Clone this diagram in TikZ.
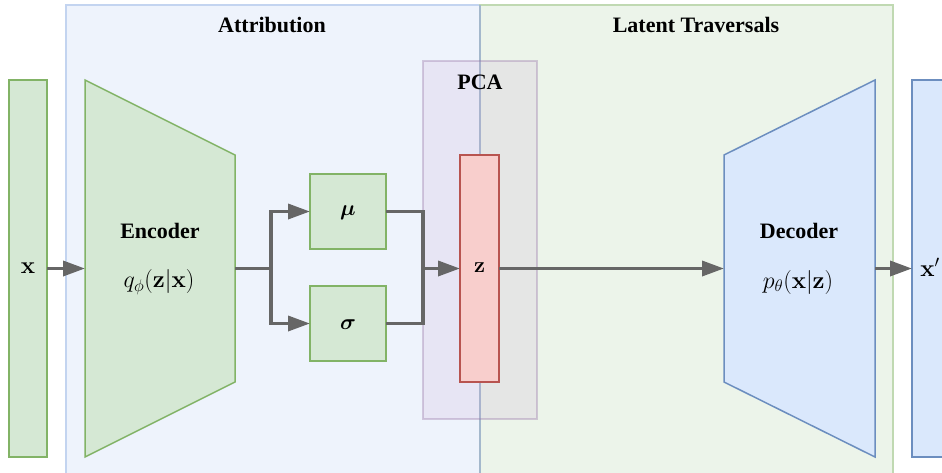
\RequirePackage{fix-cm}
\documentclass[tikz,border=0pt]{standalone}
\usepackage{amsmath}
\usepackage{bm}
\usepackage[no-math]{fontspec}
\setmainfont{Liberation Serif}
\usetikzlibrary{arrows.meta}

\definecolor{attrfill}{HTML}{EEF3FC}
\definecolor{attrline}{HTML}{C3D4F0}
\definecolor{travfill}{HTML}{ECF4EA}
\definecolor{travline}{HTML}{C0D9B2}
\definecolor{pcafill}{HTML}{C8A2D2}
\definecolor{pcaline}{HTML}{9673A6}
\definecolor{encfill}{HTML}{D5E8D4}
\definecolor{encline}{HTML}{82B366}
\definecolor{decfill}{HTML}{DAE8FC}
\definecolor{decline}{HTML}{6C8EBF}
\definecolor{zfill}{HTML}{F8CECC}
\definecolor{zline}{HTML}{B85450}
\definecolor{wire}{HTML}{666666}
\definecolor{divider}{HTML}{A4B8CC}

\tikzset{
  box/.style={inner sep=0pt, outer sep=0pt, line width=1.5pt},
  greenbox/.style={box, draw=encline, fill=encfill},
  bluebox/.style={box, draw=decline, fill=decfill},
  redbox/.style={box, draw=zline, fill=zfill},
  panel/.style={inner sep=0pt, outer sep=0pt, line width=1.5pt, anchor=north west},
  lbl/.style={inner sep=0pt, font=\fontsize{22}{26}\selectfont\bfseries},
  mathlbl/.style={inner sep=0pt, font=\fontsize{24}{28}\selectfont},
  symlbl/.style={inner sep=0pt, font=\fontsize{22}{26}\selectfont},
  wireline/.style={draw=wire, line width=3.5pt},
  conn/.style={wireline, -{Triangle[length=22pt,width=15pt]}},
}

\begin{document}
\begin{tikzpicture}[x=1pt, y=-1pt]
  \useasboundingbox (0,0) rectangle (942,472);
  \clip (0,0) rectangle (942,472);

  % background panels
  \node[panel, draw=attrline, fill=attrfill, minimum width=414pt, minimum height=490pt] (attr) at (66,5) {};
  \node[panel, draw=travline, fill=travfill, minimum width=413pt, minimum height=490pt] (trav) at (480,5) {};
  \draw[line width=1.5pt, draw=divider] (attr.north east) -- (attr.south east);
  \node[lbl] (attrlabel) at (272,25) {Attribution};
  \node[lbl] (travlabel) at (696,25) {Latent Traversals};

  % PCA region
  \node[box, draw=pcaline, draw opacity=0.35, fill=pcafill, fill opacity=0.17,
        minimum width=114pt, minimum height=358pt] (pca) at (480,240) {};
  \node[lbl] (pcalabel) at (480,82) {PCA};

  % input and output
  \node[greenbox, minimum width=38pt, minimum height=377pt] (in) at (28,268.5) {};
  \node[mathlbl] (inlabel) at (28,268) {$\mathbf{x}$};
  \node[bluebox, minimum width=38pt, minimum height=377pt] (out) at (931,268.5) {};
  \node[mathlbl] (outlabel) at (930,267) {$\mathbf{x}'$};

  % encoder
  \node[inner sep=0pt, outer sep=0pt, minimum width=150pt, minimum height=377pt] (enc) at (160,268.5) {};
  \draw[line width=1.5pt, draw=encline, fill=encfill]
    (enc.north west) -- (235,155) -- (235,382) -- (enc.south west) -- cycle;
  \node[lbl] (enclabel) at (160,231) {Encoder};
  \node[mathlbl] (encmath) at (159,282) {$q_\phi(\mathbf{z}|\mathbf{x})$};

  % decoder
  \node[inner sep=0pt, outer sep=0pt, minimum width=151pt, minimum height=377pt] (dec) at (799.5,268.5) {};
  \draw[line width=1.5pt, draw=decline, fill=decfill]
    (724,155) -- (dec.north east) -- (dec.south east) -- (724,382) -- cycle;
  \node[lbl] (declabel) at (799,231) {Decoder};
  \node[mathlbl] (decmath) at (798,282) {$p_\theta(\mathbf{x}|\mathbf{z})$};

  % mean and spread
  \node[greenbox, minimum width=76pt, minimum height=75pt] (mu) at (348,211.5) {};
  \node[symlbl] (mulabel) at (348,213) {$\bm{\mu}$};
  \node[greenbox, minimum width=76pt, minimum height=75pt] (sigma) at (348,323.5) {};
  \node[symlbl] (sigmalabel) at (348,325) {$\bm{\sigma}$};

  % latent code
  \node[redbox, minimum width=39pt, minimum height=227pt] (z) at (479.5,268.5) {};
  \node[symlbl] (zlabel) at (479.5,268) {$\mathbf{z}$};

  % connectors
  \coordinate (split) at (271,268.5);
  \coordinate (join) at (423,268.5);
  \draw[conn] (in.east) -- (enc.west);
  \draw[wireline] (235,268.5) -- (split);
  \draw[conn] (split) |- (mu.west);
  \draw[conn] (split) |- (sigma.west);
  \draw[wireline] (mu.east) -| (join);
  \draw[wireline] (sigma.east) -| (join);
  \draw[conn] (join) -- (z.west);
  \draw[conn] (z.east) -- (724,268.5);
  \draw[conn] (dec.east) -- (out.west);
\end{tikzpicture}
\end{document}
